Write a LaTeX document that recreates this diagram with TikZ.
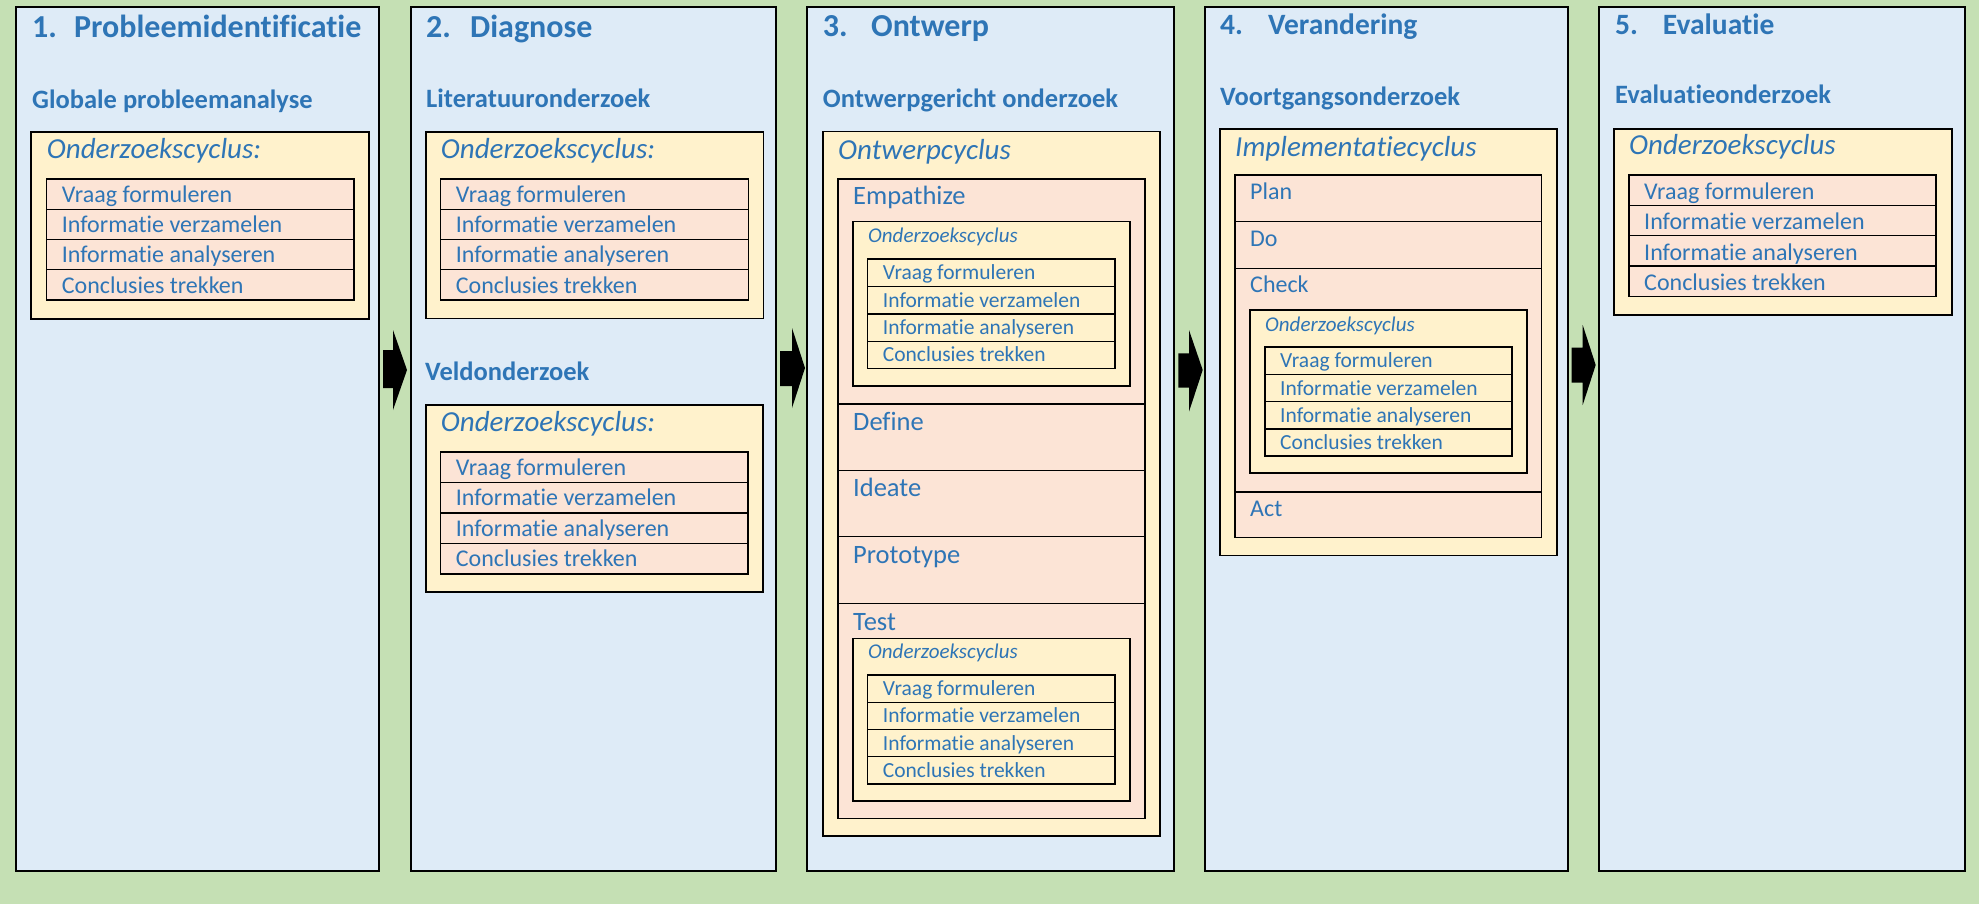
\documentclass[tikz,border=0pt]{standalone}
\usepackage{fontspec}
\setmainfont{Carlito}[Ligatures=NoCommon]
\definecolor{bggreen}{HTML}{C5E0B4}
\definecolor{colblue}{HTML}{DEEBF7}
\definecolor{boxyellow}{HTML}{FFF2CC}
\definecolor{rowpink}{HTML}{FCE4D6}
\definecolor{tblue}{HTML}{2E75B6}
\newcommand\fs[1]{\fontsize{#1}{#1}\selectfont}
\newcommand\fourrows[9]{%
  \foreach \lab [count=\i from 0] in {Vraag formuleren, Informatie verzamelen, Informatie analyseren, Conclusies trekken}{
    \draw[#9] (#2,{#4+\i*#5}) rectangle (#3,{#4+(\i+1)*#5});
    \node[txt, font=\fs{#8}] (#1-\i) at ({#2+#6},{#4+\i*#5+#7}) {\lab};
  }%
}
\tikzset{
  colbox/.style={draw=black, line width=1.8pt, fill=colblue},
  ybox/.style={draw=black, line width=1.6pt, fill=boxyellow},
  pbox/.style={draw=black, line width=1.5pt, fill=rowpink},
  rowp/.style={draw=black, line width=1.4pt, fill=rowpink},
  rowy/.style={draw=black, line width=1.4pt, fill=boxyellow},
  txt/.style={anchor=base west, inner sep=0pt, text=tblue},
  ttlbig/.style={txt, font=\bfseries\fs{32}},
  ttlsmall/.style={txt, font=\bfseries\fs{29.5}},
  subttl/.style={txt, font=\bfseries\fs{26.5}},
  cychead/.style={txt, font=\itshape\fs{29}},
  cycsmall/.style={txt, font=\itshape\fs{21}},
  seclab/.style={txt, font=\fs{26.5}},
  seclabsmall/.style={txt, font=\fs{24}},
  blockarrow/.style={fill=black}
}
\begin{document}
\begin{tikzpicture}[x=1pt,y=-1pt]
\useasboundingbox (0,0) rectangle (1979,904);
\fill[bggreen] (0,0) rectangle (1979,904);

% columns
\draw[colbox] (16,7) rectangle (379,871);
\draw[colbox] (411,7) rectangle (776,871);
\draw[colbox] (807,7) rectangle (1174,871);
\draw[colbox] (1205,7) rectangle (1568,871);
\draw[colbox] (1599,7) rectangle (1965,871);

% arrows
\fill[blockarrow] (383,350) -- (393,350) -- (393,330) -- (407,370) -- (393,410) -- (393,388) -- (383,388) -- cycle;
\fill[blockarrow] (780,351) -- (792,351) -- (792,328) -- (805,368) -- (792,408) -- (792,386) -- (780,386) -- cycle;
\fill[blockarrow] (1178.3,353.3) -- (1189,353.3) -- (1189,330) -- (1202.7,370) -- (1189,411.7) -- (1189,387.7) -- (1178.3,387.7) -- cycle;
\fill[blockarrow] (1571.7,347.7) -- (1582.7,347.7) -- (1582.7,325) -- (1595.7,365) -- (1582.7,405) -- (1582.7,382.7) -- (1571.7,382.7) -- cycle;

% ---------- column 1
\node[ttlbig] (n1) at (32,37.7) {1.};
\node[ttlbig] (t1) at (74,37.7) {Probleemidentificatie};
\node[subttl] (s1) at (32,108.3) {Globale probleemanalyse};
\draw[ybox] (30.7,132) rectangle (369,319);
\node[cychead] (h1) at (46.7,159) {Onderzoekscyclus:};
\fourrows{r1}{46.7}{354}{179}{30.25}{15}{23.3}{24}{rowp}

% ---------- column 2
\node[ttlbig] (n2) at (426,37.3) {2.};
\node[ttlbig] (t2) at (470,37.3) {Diagnose};
\node[subttl] (s2) at (426,107.3) {Literatuuronderzoek};
\draw[ybox] (426,132.3) rectangle (763.3,318.3);
\node[cychead] (h2a) at (440.7,158.3) {Onderzoekscyclus:};
\fourrows{r2a}{440.7}{748.3}{179}{30.25}{15}{23.3}{24}{rowp}
\node[subttl] (s2b) at (425,380) {Veldonderzoek};
\draw[ybox] (425.7,405) rectangle (763,591.7);
\node[cychead] (h2b) at (440.7,431.7) {Onderzoekscyclus:};
\fourrows{r2b}{440.7}{748}{452}{30.5}{15}{23}{24}{rowp}

% ---------- column 3
\node[ttlbig] (n3) at (822.7,36.7) {3.};
\node[ttlbig] (t3) at (871,36.7) {Ontwerp};
\node[subttl] (s3) at (822.7,107.3) {Ontwerpgericht onderzoek};
\draw[ybox] (822.7,131.7) rectangle (1160,836);
\node[cychead] (h3) at (838,160) {Ontwerpcyclus};
\draw[pbox] (838,179) rectangle (1145,404);
\draw[pbox] (838,404) rectangle (1145,470.7);
\draw[pbox] (838,470.7) rectangle (1145,536.7);
\draw[pbox] (838,536.7) rectangle (1145,603.3);
\draw[pbox] (838,603.3) rectangle (1145,818.3);
\node[seclab] (emp) at (853,205) {Empathize};
\node[seclab] (def) at (853,430) {Define};
\node[seclab] (ide) at (853,496.7) {Ideate};
\node[seclab] (pro) at (853,563) {Prototype};
\node[seclab] (tes) at (853,630) {Test};
\draw[ybox] (852.7,221.7) rectangle (1130,386);
\node[cycsmall] (h3e) at (868,242.7) {Onderzoekscyclus};
\fourrows{r3e}{867.7}{1115}{259}{27.4}{15}{20.7}{21.5}{rowy}
\draw[ybox] (852.7,638.3) rectangle (1130,801);
\node[cycsmall] (h3t) at (868,658) {Onderzoekscyclus};
\fourrows{r3t}{867.7}{1115}{675}{27.25}{15}{20.7}{21.5}{rowy}

% ---------- column 4
\node[ttlsmall] (n4) at (1220,34.5) {4.};
\node[ttlsmall] (t4) at (1268,34.5) {Verandering};
\node[subttl] (s4) at (1220,105.4) {Voortgangsonderzoek};
\draw[ybox] (1220,129.3) rectangle (1556.7,555.4);
\node[cychead] (h4) at (1235,156.1) {Implementatiecyclus};
\draw[pbox] (1235,175) rectangle (1541.7,221.4);
\draw[pbox] (1235,221.4) rectangle (1541.7,268.6);
\draw[pbox] (1235,268.6) rectangle (1541.7,491.8);
\draw[pbox] (1235,491.8) rectangle (1541.7,537.5);
\node[seclabsmall] (pla) at (1250,199.3) {Plan};
\node[seclabsmall] (do) at (1250,246.4) {Do};
\node[seclabsmall] (che) at (1250,292.9) {Check};
\node[seclabsmall] (act) at (1250,516.1) {Act};
\draw[ybox] (1250,310) rectangle (1527,473.2);
\node[cycsmall] (h4c) at (1265,331.4) {Onderzoekscyclus};
\fourrows{r4}{1265}{1512}{347.1}{27.25}{15}{20.8}{21.5}{rowy}

% ---------- column 5
\node[ttlsmall] (n5) at (1615,34.5) {5.};
\node[ttlsmall] (t5) at (1662.7,34.5) {Evaluatie};
\node[subttl] (s5) at (1615,104) {Evaluatieonderzoek};
\draw[ybox] (1614,129) rectangle (1951.7,315);
\node[cychead] (h5) at (1629,155) {Onderzoekscyclus};
\fourrows{r5}{1629}{1936}{175}{30.4}{15}{24.3}{24}{rowp}
\end{tikzpicture}
\end{document}
